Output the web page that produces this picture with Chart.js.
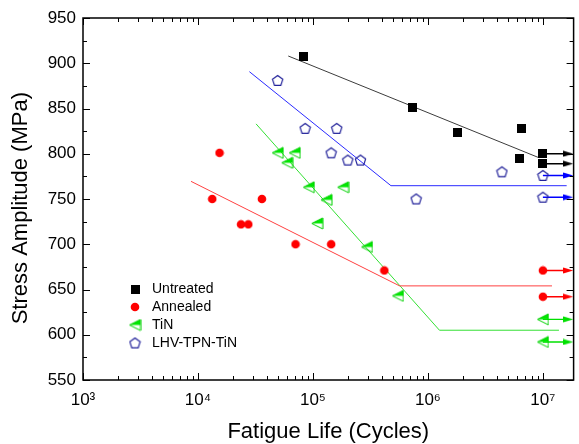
<!DOCTYPE html>
<html><head><meta charset="utf-8">
<script src="https://cdn.jsdelivr.net/npm/chart.js@4/dist/chart.umd.min.js"></script>
<style>html,body{margin:0;padding:0;background:#fff}</style>
</head><body>
<canvas id="c" width="579" height="444"></canvas>
<script>
// ---------- data ----------
const seriesNames = ['Untreated', 'Annealed', 'TiN', 'LHV-TPN-TiN'];
const xTickValues = [1e3, 1e4, 1e5, 1e6, 1e7];
const xTickLabels = ['10³', '10⁴', '10⁵', '10⁶', '10⁷'];
const runoutCycles = 1e7;

const untreatedCycles = [8.3e4, 7.35e5, 1.8e6, 6.5e6, 6.2e6, 1e7, 1e7];
const untreatedStress = [907, 851, 823, 828, 795, 800, 789];
const annealedCycles = [1.33e4, 1.54e4, 2.37e4, 2.74e4, 3.6e4, 7.06e4, 1.44e5, 4.18e5, 1e7, 1e7];
const annealedStress = [750, 801, 722, 722, 750, 700, 700, 671, 671, 642];
const tinCycles = [4.93e4, 5.97e4, 6.93e4, 9.2e4, 1.09e5, 1.31e5, 1.83e5, 2.95e5, 5.48e5, 1e7, 1e7];
const tinStress = [801, 790, 801, 763, 723, 749, 763, 697, 643, 617, 592];
const lhvCycles = [4.93e4, 8.56e4, 1.44e5, 1.61e5, 2.01e5, 2.59e5, 7.9e5, 4.4e6, 1e7, 1e7];
const lhvStress = [881, 828, 801, 828, 793, 793, 750, 780, 776, 752];

const untreatedFitX = [6.1e4, 9.3e6];
const untreatedFitY = [908, 795.5];
const annealedFitX = [8.7e3, 5.67e5, 1.2e7];
const annealedFitY = [769.5, 654, 654];
const tinFitX = [3.2e4, 1.26e6, 1.38e7];
const tinFitY = [833, 605, 605];
const lhvFitX = [2.8e4, 4.77e5, 1.61e7];
const lhvFitY = [890.7, 764.7, 764.7];

// ---------- styles ----------
const FONT = '"Liberation Sans", Arial, Helvetica, sans-serif';
const ARROW_END = 1.66e7;
function mk(w, h, f) { const c = document.createElement('canvas'); c.width = w; c.height = h; f(c.getContext('2d')); return c; }
const mSquare = mk(9, 9, g => { g.fillStyle = '#000'; g.fillRect(0, 0, 9, 9); });
const mCircle = mk(10, 10, g => { g.fillStyle = '#ff0000'; g.beginPath(); g.arc(5, 5, 4.3, 0, Math.PI * 2); g.fill(); });
const mTri = mk(13, 13, g => {
  const p = () => { g.beginPath(); g.moveTo(1, 6.5); g.lineTo(12, 1); g.lineTo(12, 12); g.closePath(); };
  g.save(); g.beginPath(); g.rect(0, 0, 13, 6.5); g.clip(); p(); g.fillStyle = '#00e800'; g.fill(); g.restore();
  p(); g.strokeStyle = '#00d000'; g.lineWidth = 1; g.stroke();
});
const mPent = mk(13, 13, g => {
  g.beginPath();
  for (let i = 0; i < 5; i++) { const a = -Math.PI / 2 + i * 2 * Math.PI / 5; const px = 6.5 + 5.4 * Math.cos(a), py = 7 + 5.4 * Math.sin(a); i ? g.lineTo(px, py) : g.moveTo(px, py); }
  g.closePath(); g.strokeStyle = '#22229a'; g.lineWidth = 1.2; g.stroke();
});
function arrowHead(col) { return mk(10, 7, g => { g.fillStyle = col; g.beginPath(); g.moveTo(0, 0.5); g.lineTo(10, 3.5); g.lineTo(0, 6.5); g.closePath(); g.fill(); }); }

const pts = (xs, ys) => xs.map((v, i) => ({ x: v, y: ys[i] }));

function scatterSet(i, xs, ys, img) {
  return { label: seriesNames[i], data: pts(xs, ys), showLine: false, pointStyle: img, pointRadius: 4, pointHoverRadius: 4 };
}
function fitSet(xs, ys, col) {
  return { label: '', data: pts(xs, ys), showLine: true, borderColor: col, borderWidth: 1, pointRadius: 0, fill: false };
}
function arrowSets(xs, ys, col) {
  const head = arrowHead(col);
  const out = [];
  xs.forEach((v, i) => {
    if (v >= runoutCycles) out.push({ label: '', data: [{ x: v, y: ys[i] }, { x: ARROW_END, y: ys[i] }], showLine: true,
      borderColor: col, borderWidth: 1.4, pointRadius: [0, 3], pointStyle: head, fill: false });
  });
  return out;
}

const datasets = [
  scatterSet(0, untreatedCycles, untreatedStress, mSquare),
  scatterSet(1, annealedCycles, annealedStress, mCircle),
  scatterSet(2, tinCycles, tinStress, mTri),
  scatterSet(3, lhvCycles, lhvStress, mPent),
  fitSet(untreatedFitX, untreatedFitY, '#3c3c3c'),
  fitSet(annealedFitX, annealedFitY, '#ff4040'),
  fitSet(tinFitX, tinFitY, '#33e033'),
  fitSet(lhvFitX, lhvFitY, '#2a2aff'),
  ...arrowSets(untreatedCycles, untreatedStress, '#000000'),
  ...arrowSets(annealedCycles, annealedStress, '#ff0000'),
  ...arrowSets(tinCycles, tinStress, '#00e000'),
  ...arrowSets(lhvCycles, lhvStress, '#0000ff'),
];

const frameTicks = {
  id: 'frameTicks',
  afterLayout(chart) {
    const L = chart.legend;
    if (L) { L.left = 121; L.top = 278; L.right = 340; L.bottom = 378; L.width = 219; L.height = 100; }
  },
  afterDraw(chart) {
    const { ctx, chartArea: a, scales: { x, y } } = chart;
    ctx.save();
    ctx.strokeStyle = '#000'; ctx.lineWidth = 1;
    ctx.beginPath();
    for (let d = 3; d <= 7; d++) for (let k = 1; k <= 9; k++) {
      const v = k * Math.pow(10, d);
      if (v < x.min || v > x.max) continue;
      const px = Math.round(x.getPixelForValue(v)) + 0.5, len = k === 1 ? 7 : 4;
      ctx.moveTo(px, a.bottom); ctx.lineTo(px, a.bottom - len);
      ctx.moveTo(px, a.top); ctx.lineTo(px, a.top + len);
    }
    for (let v = y.min; v <= y.max; v += 25) {
      const py = Math.round(y.getPixelForValue(v)) + 0.5, len = (v % 50 === 0) ? 7 : 4;
      ctx.moveTo(a.left, py); ctx.lineTo(a.left + len, py);
      ctx.moveTo(a.right, py); ctx.lineTo(a.right - len, py);
    }
    ctx.stroke();
    ctx.lineWidth = 1.5;
    ctx.strokeRect(a.left, a.top, a.right - a.left, a.bottom - a.top);
    ctx.restore();
  }
};

new Chart(document.getElementById('c'), {
  type: 'scatter',
  data: { datasets },
  options: {
    responsive: false, animation: false, devicePixelRatio: 1,
    layout: { padding: { left: 0, right: 4, top: 18, bottom: 0 } },
    plugins: {
      tooltip: { enabled: false },
      legend: {
        position: 'chartArea', align: 'start',
        labels: {
          usePointStyle: true, pointStyleWidth: 20, boxHeight: 14, padding: 4,
          color: '#000', font: { family: FONT, size: 14 },
          filter: item => item.datasetIndex < 4
        }
      }
    },
    scales: {
      x: {
        type: 'logarithmic', min: 1e3, max: 1.85e7,
        grid: { display: false, drawTicks: false }, border: { display: false },
        afterBuildTicks: s => { s.ticks = xTickValues.map(v => ({ value: v })); },
        afterFit: s => { s.height = 64; },
        ticks: {
          autoSkip: false, maxRotation: 0, padding: 10, color: '#000',
          font: { family: FONT, size: 17 },
          callback: v => { const i = xTickValues.indexOf(v); return i >= 0 ? xTickLabels[i] : ''; }
        },
        title: { display: true, text: 'Fatigue Life (Cycles)', color: '#000', font: { family: FONT, size: 22, lineHeight: 1 }, padding: { top: 0, bottom: 1 } }
      },
      y: {
        min: 550, max: 950,
        grid: { display: false, drawTicks: false }, border: { display: false },
        afterFit: s => { s.width = 83; },
        ticks: { stepSize: 50, padding: 7, color: '#000', font: { family: FONT, size: 17 } },
        title: { display: true, text: 'Stress Amplitude (MPa)   ', color: '#000', font: { family: FONT, size: 22, lineHeight: 1 }, padding: { top: 10, bottom: 0 } }
      }
    }
  },
  plugins: [frameTicks]
});
</script>
</body></html>
